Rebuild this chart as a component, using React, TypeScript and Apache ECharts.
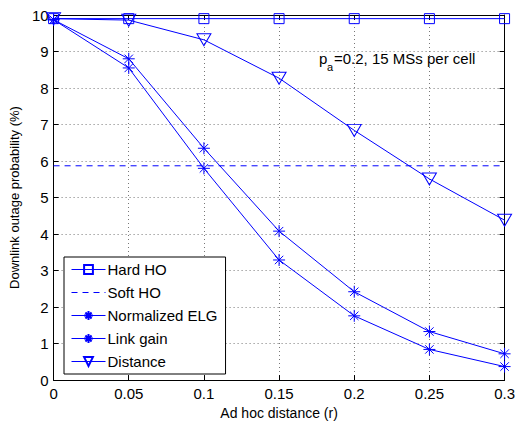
import React, { useEffect, useRef } from "react";
import * as echarts from "echarts";

const xValues = [0, 0.05, 0.1, 0.15, 0.2, 0.25, 0.3];
const xTickLabels = ["0", "0.05", "0.1", "0.15", "0.2", "0.25", "0.3"];
const hardHO = [9.9, 9.9, 9.9, 9.9, 9.9, 9.9, 9.9];
const softHO = [5.87, 5.87, 5.87, 5.87, 5.87, 5.87, 5.87];
const normalizedELG = [9.87, 8.8, 6.35, 4.08, 2.42, 1.33, 0.72];
const linkGain = [9.87, 8.55, 5.8, 3.29, 1.76, 0.84, 0.37];
const distance = [9.9, 9.86, 9.32, 8.27, 6.84, 5.51, 4.38];

const BLUE = "#0000ff";
const FONT = "Liberation Sans";
const ASTERISK = "path://M5 0L5 10M0 5L10 5M1.5 1.5L8.5 8.5M8.5 1.5L1.5 8.5";
const TRI_DOWN = "path://M0 0L10 0L5 8.66Z";
const EMPTY = "path://M0 0L1 0L1 1L0 1Z";

const pairs = (ys: number[]) => xValues.map((x, i) => [x, ys[i]]);

export default function App() {
  const ref = useRef<HTMLDivElement>(null);
  useEffect(() => {
    if (!ref.current) return;
    const chart = echarts.init(ref.current, undefined, { renderer: "svg" });
    const axisCommon = {
      type: "value" as const,
      axisLine: { show: true, onZero: false, lineStyle: { color: "#000", width: 1 } },
      axisTick: { show: true, inside: true, length: 5, lineStyle: { color: "#000" } },
    };
    const mk = (name: string, data: number[], symbol: string, size: number | number[], extra: any = {}) => ({
      name,
      type: "line",
      data: pairs(data),
      symbol,
      symbolSize: size,
      clip: false,
      lineStyle: { color: BLUE, width: 1 },
      itemStyle: { color: "transparent", borderColor: BLUE, borderWidth: 1 },
      emphasis: { disabled: true },
      ...extra,
    });
    chart.setOption({
      animation: false,
      backgroundColor: "#fff",
      textStyle: { fontFamily: FONT },
      grid: { left: 53, right: 11, top: 15, bottom: 41, containLabel: false },
      xAxis: [
        {
          ...axisCommon,
          position: "bottom",
          min: 0,
          max: 0.3,
          interval: 0.05,
          name: "Ad hoc distance (r)",
          nameLocation: "middle",
          nameGap: 22,
          nameTextStyle: { fontSize: 14, color: "#000", fontFamily: FONT, verticalAlign: "top" },
          axisLabel: {
            fontSize: 15,
            color: "#000",
            margin: 6,
            fontFamily: FONT,
            formatter: (v: number) => {
              const i = Math.round(v / 0.05);
              return xTickLabels[i] ?? "";
            },
          },
          splitLine: { show: true, lineStyle: { color: "#777", type: [1, 3], width: 1 } },
        },
        {
          ...axisCommon,
          position: "top",
          min: 0,
          max: 0.3,
          interval: 0.05,
          axisLabel: { show: false },
          splitLine: { show: false },
        },
      ],
      yAxis: [
        {
          ...axisCommon,
          position: "left",
          min: 0,
          max: 10,
          interval: 1,
          name: "Downlink outage probability (%)",
          nameLocation: "middle",
          nameGap: 27,
          nameTextStyle: { fontSize: 13, color: "#000", fontFamily: FONT },
          axisLabel: { fontSize: 15, color: "#000", margin: 5, fontFamily: FONT },
          splitLine: { show: true, lineStyle: { color: "#777", type: [1, 3], width: 1 } },
        },
        {
          ...axisCommon,
          position: "right",
          min: 0,
          max: 10,
          interval: 1,
          axisLabel: { show: false },
          splitLine: { show: false },
        },
      ],
      legend: {
        orient: "vertical",
        left: 64,
        top: 257,
        width: 166,
        backgroundColor: "#fff",
        borderColor: "#000",
        borderWidth: 1,
        borderRadius: 0,
        padding: [5, 8, 5, 7],
        itemWidth: 34,
        itemHeight: 11,
        itemGap: 8,
        lineStyle: { width: 1 },
        textStyle: { fontSize: 15, color: "#000", fontFamily: FONT, padding: [0, 0, 0, -3] },
        selectedMode: false,
        data: ["Hard HO", "Soft HO", "Normalized ELG", "Link gain", "Distance"],
      },
      graphic: [
        { type: "text", left: 319, top: 51, style: { text: "p", fontSize: 15, fill: "#000", fontFamily: FONT } },
        { type: "text", left: 327, top: 61, style: { text: "a", fontSize: 11, fill: "#000", fontFamily: FONT } },
        {
          type: "text",
          left: 334,
          top: 51,
          style: { text: "=0.2, 15 MSs per cell", fontSize: 15, fill: "#000", fontFamily: FONT },
        },
      ],
      series: [
        mk("Hard HO", hardHO, "rect", 10),
        mk("Soft HO", softHO, EMPTY, 1, {
          lineStyle: { color: BLUE, width: 1, type: [6, 5] },
          itemStyle: { color: "transparent", borderColor: "transparent", borderWidth: 0 },
        }),
        mk("Normalized ELG", normalizedELG, ASTERISK, 12),
        mk("Link gain", linkGain, ASTERISK, 12),
        mk("Distance", distance, TRI_DOWN, [14, 12]),
      ],
    });
    return () => chart.dispose();
  }, []);
  return <div ref={ref} style={{ position: "absolute", left: 0, top: 0, width: 518, height: 425 }} />;
}
